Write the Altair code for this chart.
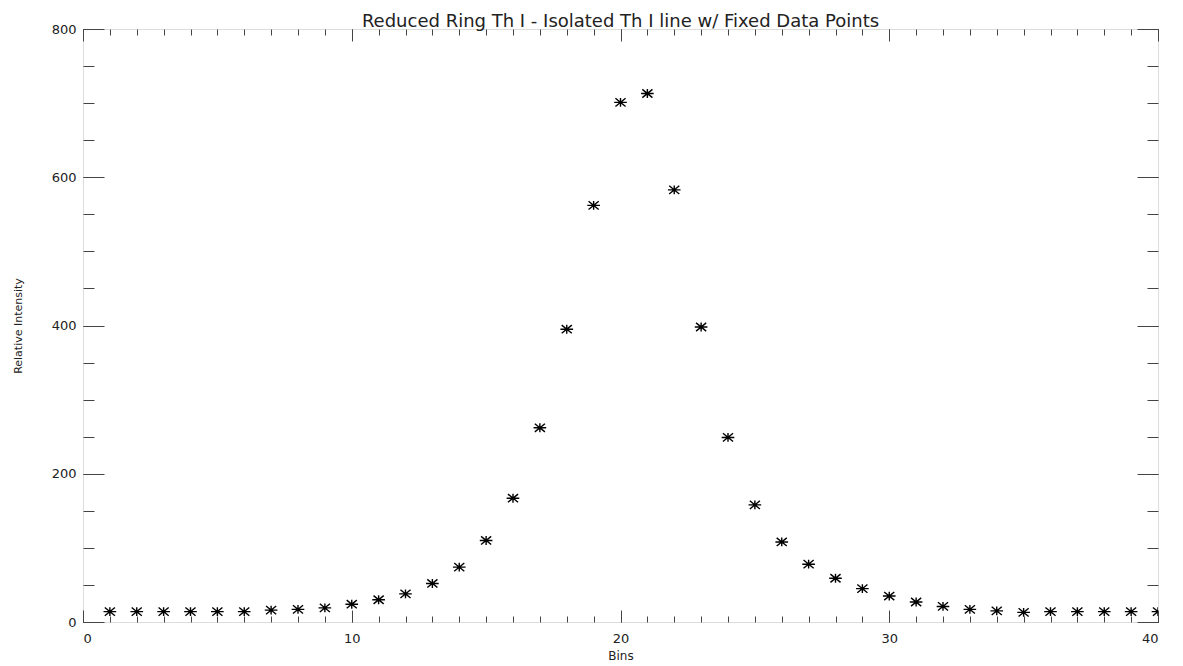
import altair as alt
import pandas as pd

bins = list(range(1, 41))
intensity = [14, 14, 14, 14, 14, 14, 16, 17, 19, 24,
             30, 38, 52, 74, 110, 167, 262, 395, 562, 701,
             713, 583, 398, 249, 158, 108, 78, 59, 45, 35,
             27, 21, 17, 15, 13, 14, 14, 14, 14, 14]

x_major = [0, 10, 20, 30, 40]
x_minor = list(range(0, 41))
y_major = [0, 200, 400, 600, 800]
y_minor = list(range(0, 801, 50))

df = pd.DataFrame({"Bins": bins, "Intensity": intensity})

W, H = 1075, 593
FONT = "DejaVu Sans"
AX = "#444444"

asterisk = ("M-1,0L1,0M-0.8,-0.65L0.8,0.65M-0.8,0.65L0.8,-0.65"
            "M0,-0.7L0,0.7")

xscale = alt.Scale(domain=[0, 40], nice=False, zero=False)
yscale = alt.Scale(domain=[0, 800], nice=False, zero=False)


def tick_axis(orient, values, size, labels=False, **kw):
    return alt.Axis(orient=orient, values=values, tickSize=size,
                    offset=-size, domain=False, grid=False,
                    labels=labels, tickColor=AX, tickWidth=1,
                    title=None if "title" not in kw else kw.pop("title"),
                    **kw)


base = alt.Chart(df)

main = base.mark_point(shape=asterisk, size=160, filled=False,
                       strokeWidth=1.4, color="black", clip=True,
                       opacity=1).encode(
    x=alt.X("Bins:Q", scale=xscale,
            axis=tick_axis("bottom", x_major, 12, labels=True,
                           title="Bins", labelPadding=10,
                           labelFont=FONT, labelFontSize=13,
                           labelColor="#222", titleFont=FONT,
                           titleFontSize=12, titleFontWeight="normal",
                           titleColor="#222", titleY=40,
                           titleBaseline="top")),
    y=alt.Y("Intensity:Q", scale=yscale,
            axis=tick_axis("left", y_major, 21, labels=True,
                           title="Relative Intensity", labelPadding=7,
                           labelFont=FONT, labelFontSize=13,
                           labelColor="#222", titleFont=FONT,
                           titleFontSize=11, titleFontWeight="normal",
                           titleColor="#222", titleX=-86,
                           titleBaseline="middle", titleAngle=-90)),
)

hidden = dict(opacity=0, clip=True)

minor_bl = base.mark_point(**hidden).encode(
    x=alt.X("Bins:Q", scale=xscale, axis=tick_axis("bottom", x_minor, 6)),
    y=alt.Y("Intensity:Q", scale=yscale, axis=tick_axis("left", y_minor, 11)),
)
major_tr = base.mark_point(**hidden).encode(
    x=alt.X("Bins:Q", scale=xscale, axis=tick_axis("top", x_major, 12)),
    y=alt.Y("Intensity:Q", scale=yscale, axis=tick_axis("right", y_major, 21)),
)
minor_tr = base.mark_point(**hidden).encode(
    x=alt.X("Bins:Q", scale=xscale, axis=tick_axis("top", x_minor, 6)),
    y=alt.Y("Intensity:Q", scale=yscale, axis=tick_axis("right", y_minor, 11)),
)

chart = alt.layer(main, minor_bl, major_tr, minor_tr).resolve_axis(
    x="independent", y="independent"
).properties(
    width=W, height=H,
    title=alt.TitleParams(
        "Reduced Ring Th I - Isolated Th I line w/ Fixed Data Points",
        font=FONT, fontSize=18, fontWeight="normal", color="#222",
        anchor="middle", offset=0, dy=8),
    autosize=alt.AutoSizeParams(type="none"),
    padding={"left": 83, "top": 29, "right": 25, "bottom": 44},
).configure_view(stroke="#333333", strokeWidth=1.2).configure(
    background="white")

chart.save("out.html", embed_options={"renderer": "svg", "actions": False})
